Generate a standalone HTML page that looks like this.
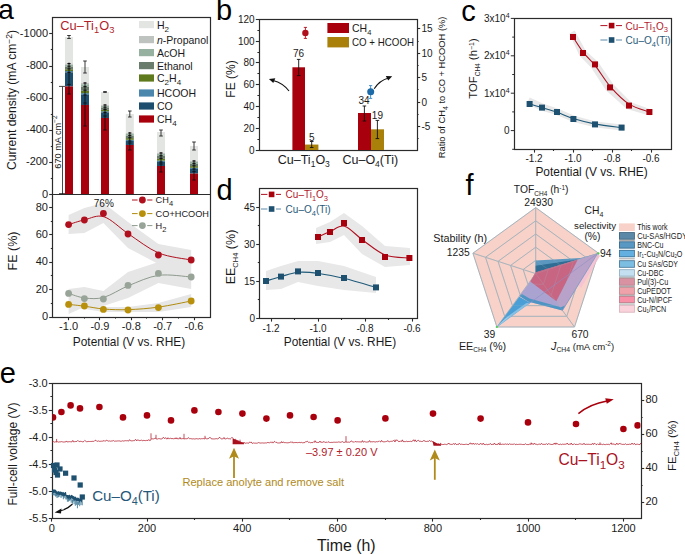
<!DOCTYPE html><html><head><meta charset="utf-8"><style>html,body{margin:0;padding:0;background:#fff;}svg{display:block;}text{font-family:"Liberation Sans",sans-serif;}</style></head><body>
<svg width="685" height="555" viewBox="0 0 685 555">
<rect width="685" height="555" fill="#fff"/>
<text x="-1.8" y="19" font-size="28" text-anchor="start" fill="#000" >a</text>
<text x="216" y="20.4" font-size="29" text-anchor="start" fill="#000" >b</text>
<text x="461.2" y="20.8" font-size="29" text-anchor="start" fill="#000" >c</text>
<text x="216.6" y="199.6" font-size="29" text-anchor="start" fill="#000" >d</text>
<text x="465.6" y="195.3" font-size="29" text-anchor="start" fill="#000" >f</text>
<text x="-0.3" y="383.4" font-size="29" text-anchor="start" fill="#000" >e</text>
<rect x="65" y="37" width="8" height="26.6" fill="#e3e5e3" />
<rect x="65" y="70.99" width="8" height="1.46" fill="#4b86ad" />
<rect x="65" y="69.23" width="8" height="1.81" fill="#5f7a1c" />
<rect x="65" y="66.42" width="8" height="2.87" fill="#6a7c6c" />
<rect x="65" y="64.48" width="8" height="1.99" fill="#97b1a0" />
<rect x="65" y="63.6" width="8" height="0.93" fill="#bfc3bf" />
<rect x="65" y="72.4" width="8" height="14" fill="#1e4e6e" />
<rect x="65" y="86.4" width="8" height="108" fill="#a8000c" />
<line x1="69" y1="35.5" x2="69" y2="38.5" stroke="#222" stroke-width="0.9" />
<line x1="67.2" y1="35.5" x2="70.8" y2="35.5" stroke="#222" stroke-width="0.9" />
<line x1="67.2" y1="38.5" x2="70.8" y2="38.5" stroke="#222" stroke-width="0.9" />
<line x1="67.4" y1="63.6" x2="70.6" y2="63.6" stroke="#111" stroke-width="1.1" />
<line x1="67.4" y1="66.24" x2="70.6" y2="66.24" stroke="#111" stroke-width="1.1" />
<line x1="67.4" y1="68.88" x2="70.6" y2="68.88" stroke="#111" stroke-width="1.1" />
<line x1="67.4" y1="72.4" x2="70.6" y2="72.4" stroke="#111" stroke-width="1.1" />
<line x1="69" y1="62.6" x2="69" y2="94" stroke="#111" stroke-width="0.9" />
<line x1="67.3" y1="94" x2="70.7" y2="94" stroke="#111" stroke-width="0.9" />
<line x1="67.3" y1="84.4" x2="70.7" y2="84.4" stroke="#111" stroke-width="0.9" />
<rect x="81" y="67" width="8" height="16" fill="#e3e5e3" />
<rect x="81" y="93.08" width="8" height="1.97" fill="#4b86ad" />
<rect x="81" y="90.68" width="8" height="2.45" fill="#5f7a1c" />
<rect x="81" y="86.84" width="8" height="3.89" fill="#6a7c6c" />
<rect x="81" y="84.2" width="8" height="2.69" fill="#97b1a0" />
<rect x="81" y="83" width="8" height="1.25" fill="#bfc3bf" />
<rect x="81" y="95" width="8" height="10" fill="#1e4e6e" />
<rect x="81" y="105" width="8" height="89.4" fill="#a8000c" />
<line x1="85" y1="61" x2="85" y2="73" stroke="#222" stroke-width="0.9" />
<line x1="83.2" y1="61" x2="86.8" y2="61" stroke="#222" stroke-width="0.9" />
<line x1="83.2" y1="73" x2="86.8" y2="73" stroke="#222" stroke-width="0.9" />
<line x1="83.4" y1="83" x2="86.6" y2="83" stroke="#111" stroke-width="1.1" />
<line x1="83.4" y1="86.6" x2="86.6" y2="86.6" stroke="#111" stroke-width="1.1" />
<line x1="83.4" y1="90.2" x2="86.6" y2="90.2" stroke="#111" stroke-width="1.1" />
<line x1="83.4" y1="95" x2="86.6" y2="95" stroke="#111" stroke-width="1.1" />
<line x1="85" y1="82" x2="85" y2="126" stroke="#111" stroke-width="0.9" />
<line x1="83.3" y1="126" x2="86.7" y2="126" stroke="#111" stroke-width="0.9" />
<line x1="83.3" y1="103" x2="86.7" y2="103" stroke="#111" stroke-width="0.9" />
<rect x="101" y="92" width="8" height="13" fill="#e3e5e3" />
<rect x="101" y="111.22" width="8" height="1.23" fill="#4b86ad" />
<rect x="101" y="109.74" width="8" height="1.53" fill="#5f7a1c" />
<rect x="101" y="107.37" width="8" height="2.42" fill="#6a7c6c" />
<rect x="101" y="105.74" width="8" height="1.68" fill="#97b1a0" />
<rect x="101" y="105" width="8" height="0.79" fill="#bfc3bf" />
<rect x="101" y="112.4" width="8" height="5.6" fill="#1e4e6e" />
<rect x="101" y="118" width="8" height="76.4" fill="#a8000c" />
<line x1="105" y1="91.6" x2="105" y2="92.4" stroke="#222" stroke-width="0.9" />
<line x1="103.2" y1="91.6" x2="106.8" y2="91.6" stroke="#222" stroke-width="0.9" />
<line x1="103.2" y1="92.4" x2="106.8" y2="92.4" stroke="#222" stroke-width="0.9" />
<line x1="103.4" y1="105" x2="106.6" y2="105" stroke="#111" stroke-width="1.1" />
<line x1="103.4" y1="107.22" x2="106.6" y2="107.22" stroke="#111" stroke-width="1.1" />
<line x1="103.4" y1="109.44" x2="106.6" y2="109.44" stroke="#111" stroke-width="1.1" />
<line x1="103.4" y1="112.4" x2="106.6" y2="112.4" stroke="#111" stroke-width="1.1" />
<line x1="105" y1="104" x2="105" y2="130" stroke="#111" stroke-width="0.9" />
<line x1="103.3" y1="130" x2="106.7" y2="130" stroke="#111" stroke-width="0.9" />
<line x1="103.3" y1="116" x2="106.7" y2="116" stroke="#111" stroke-width="0.9" />
<rect x="125.8" y="114" width="8" height="19" fill="#e3e5e3" />
<rect x="125.8" y="139.72" width="8" height="1.33" fill="#4b86ad" />
<rect x="125.8" y="138.12" width="8" height="1.65" fill="#5f7a1c" />
<rect x="125.8" y="135.56" width="8" height="2.61" fill="#6a7c6c" />
<rect x="125.8" y="133.8" width="8" height="1.81" fill="#97b1a0" />
<rect x="125.8" y="133" width="8" height="0.85" fill="#bfc3bf" />
<rect x="125.8" y="141" width="8" height="4" fill="#1e4e6e" />
<rect x="125.8" y="145" width="8" height="49.4" fill="#a8000c" />
<line x1="129.8" y1="111" x2="129.8" y2="117" stroke="#222" stroke-width="0.9" />
<line x1="128" y1="111" x2="131.6" y2="111" stroke="#222" stroke-width="0.9" />
<line x1="128" y1="117" x2="131.6" y2="117" stroke="#222" stroke-width="0.9" />
<line x1="128.2" y1="133" x2="131.4" y2="133" stroke="#111" stroke-width="1.1" />
<line x1="128.2" y1="135.4" x2="131.4" y2="135.4" stroke="#111" stroke-width="1.1" />
<line x1="128.2" y1="137.8" x2="131.4" y2="137.8" stroke="#111" stroke-width="1.1" />
<line x1="128.2" y1="141" x2="131.4" y2="141" stroke="#111" stroke-width="1.1" />
<line x1="129.8" y1="132" x2="129.8" y2="150" stroke="#111" stroke-width="0.9" />
<line x1="128.1" y1="150" x2="131.5" y2="150" stroke="#111" stroke-width="0.9" />
<line x1="128.1" y1="143" x2="131.5" y2="143" stroke="#111" stroke-width="0.9" />
<rect x="157" y="132" width="8" height="21" fill="#e3e5e3" />
<rect x="157" y="160.56" width="8" height="1.49" fill="#4b86ad" />
<rect x="157" y="158.76" width="8" height="1.85" fill="#5f7a1c" />
<rect x="157" y="155.88" width="8" height="2.93" fill="#6a7c6c" />
<rect x="157" y="153.9" width="8" height="2.03" fill="#97b1a0" />
<rect x="157" y="153" width="8" height="0.95" fill="#bfc3bf" />
<rect x="157" y="162" width="8" height="4" fill="#1e4e6e" />
<rect x="157" y="166" width="8" height="28.4" fill="#a8000c" />
<line x1="161" y1="130" x2="161" y2="136" stroke="#222" stroke-width="0.9" />
<line x1="159.2" y1="130" x2="162.8" y2="130" stroke="#222" stroke-width="0.9" />
<line x1="159.2" y1="136" x2="162.8" y2="136" stroke="#222" stroke-width="0.9" />
<line x1="159.4" y1="153" x2="162.6" y2="153" stroke="#111" stroke-width="1.1" />
<line x1="159.4" y1="155.7" x2="162.6" y2="155.7" stroke="#111" stroke-width="1.1" />
<line x1="159.4" y1="158.4" x2="162.6" y2="158.4" stroke="#111" stroke-width="1.1" />
<line x1="159.4" y1="162" x2="162.6" y2="162" stroke="#111" stroke-width="1.1" />
<line x1="161" y1="152" x2="161" y2="172" stroke="#111" stroke-width="0.9" />
<line x1="159.3" y1="172" x2="162.7" y2="172" stroke="#111" stroke-width="0.9" />
<line x1="159.3" y1="164" x2="162.7" y2="164" stroke="#111" stroke-width="0.9" />
<rect x="190" y="146" width="8" height="15" fill="#e3e5e3" />
<rect x="190" y="167.72" width="8" height="1.33" fill="#4b86ad" />
<rect x="190" y="166.12" width="8" height="1.65" fill="#5f7a1c" />
<rect x="190" y="163.56" width="8" height="2.61" fill="#6a7c6c" />
<rect x="190" y="161.8" width="8" height="1.81" fill="#97b1a0" />
<rect x="190" y="161" width="8" height="0.85" fill="#bfc3bf" />
<rect x="190" y="169" width="8" height="4.6" fill="#1e4e6e" />
<rect x="190" y="173.6" width="8" height="20.8" fill="#a8000c" />
<line x1="194" y1="142" x2="194" y2="150" stroke="#222" stroke-width="0.9" />
<line x1="192.2" y1="142" x2="195.8" y2="142" stroke="#222" stroke-width="0.9" />
<line x1="192.2" y1="150" x2="195.8" y2="150" stroke="#222" stroke-width="0.9" />
<line x1="192.4" y1="161" x2="195.6" y2="161" stroke="#111" stroke-width="1.1" />
<line x1="192.4" y1="163.4" x2="195.6" y2="163.4" stroke="#111" stroke-width="1.1" />
<line x1="192.4" y1="165.8" x2="195.6" y2="165.8" stroke="#111" stroke-width="1.1" />
<line x1="192.4" y1="169" x2="195.6" y2="169" stroke="#111" stroke-width="1.1" />
<line x1="194" y1="160" x2="194" y2="180" stroke="#111" stroke-width="0.9" />
<line x1="192.3" y1="180" x2="195.7" y2="180" stroke="#111" stroke-width="0.9" />
<line x1="192.3" y1="171.6" x2="195.7" y2="171.6" stroke="#111" stroke-width="0.9" />
<line x1="62.5" y1="86.4" x2="62.5" y2="194.4" stroke="#333" stroke-width="0.9" />
<line x1="59" y1="86.4" x2="65" y2="86.4" stroke="#333" stroke-width="0.9" />
<line x1="59" y1="193.9" x2="65" y2="193.9" stroke="#111" stroke-width="1.2" />
<text transform="translate(60.6,142) rotate(-90)" font-size="9.2" text-anchor="middle" fill="#1a1a1a">670 mA cm<tspan dy="-3.5" font-size="6.5">−2</tspan></text>
<rect x="52.5" y="17.5" width="158" height="300" fill="none" stroke="#2b2b2b" stroke-width="1.2"/>
<line x1="52.4" y1="194.5" x2="210.6" y2="194.5" stroke="#2b2b2b" stroke-width="1.2" />
<line x1="49.2" y1="33.5" x2="52.4" y2="33.5" stroke="#2b2b2b" stroke-width="1.1" />
<text x="48" y="37" font-size="11" text-anchor="end" fill="#1a1a1a" >-1000</text>
<line x1="49.2" y1="66.5" x2="52.4" y2="66.5" stroke="#2b2b2b" stroke-width="1.1" />
<text x="48" y="69.1" font-size="11" text-anchor="end" fill="#1a1a1a" >-800</text>
<line x1="49.2" y1="98.5" x2="52.4" y2="98.5" stroke="#2b2b2b" stroke-width="1.1" />
<text x="48" y="101.2" font-size="11" text-anchor="end" fill="#1a1a1a" >-600</text>
<line x1="49.2" y1="130.5" x2="52.4" y2="130.5" stroke="#2b2b2b" stroke-width="1.1" />
<text x="48" y="133.3" font-size="11" text-anchor="end" fill="#1a1a1a" >-400</text>
<line x1="49.2" y1="162.5" x2="52.4" y2="162.5" stroke="#2b2b2b" stroke-width="1.1" />
<text x="48" y="165.4" font-size="11" text-anchor="end" fill="#1a1a1a" >-200</text>
<line x1="49.2" y1="194.5" x2="52.4" y2="194.5" stroke="#2b2b2b" stroke-width="1.1" />
<text x="48" y="197.5" font-size="11" text-anchor="end" fill="#1a1a1a" >0</text>
<line x1="50.8" y1="49.5" x2="52.4" y2="49.5" stroke="#2b2b2b" stroke-width="1.1" />
<line x1="50.8" y1="82.5" x2="52.4" y2="82.5" stroke="#2b2b2b" stroke-width="1.1" />
<line x1="50.8" y1="114.5" x2="52.4" y2="114.5" stroke="#2b2b2b" stroke-width="1.1" />
<line x1="50.8" y1="146.5" x2="52.4" y2="146.5" stroke="#2b2b2b" stroke-width="1.1" />
<line x1="50.8" y1="178.5" x2="52.4" y2="178.5" stroke="#2b2b2b" stroke-width="1.1" />
<text x="60.3" y="30.3" font-size="12.8" fill="#b01e2a">Cu–Ti<tspan dy="3" font-size="9.4">1</tspan><tspan dy="-3">O</tspan><tspan dy="3" font-size="9.4">3</tspan></text>
<rect x="139" y="21" width="15" height="7.2" fill="#e3e5e3" />
<text x="157" y="28.6" font-size="10.5" text-anchor="start" fill="#1a1a1a" >H<tspan dy="3" font-size="8">2</tspan></text>
<rect x="139" y="36" width="15" height="7.2" fill="#bfc3bf" />
<text x="157" y="43.6" font-size="10.5" text-anchor="start" fill="#1a1a1a" ><tspan font-style="italic">n</tspan>-Propanol</text>
<rect x="139" y="49" width="15" height="7.2" fill="#97b1a0" />
<text x="157" y="56.6" font-size="10.5" text-anchor="start" fill="#1a1a1a" >AcOH</text>
<rect x="139" y="62" width="15" height="7.2" fill="#6a7c6c" />
<text x="157" y="69.6" font-size="10.5" text-anchor="start" fill="#1a1a1a" >Ethanol</text>
<rect x="139" y="74.4" width="15" height="7.2" fill="#5f7a1c" />
<text x="157" y="82" font-size="10.5" text-anchor="start" fill="#1a1a1a" >C<tspan dy="3" font-size="8">2</tspan><tspan dy="-3">H</tspan><tspan dy="3" font-size="8">4</tspan></text>
<rect x="139" y="89.4" width="15" height="7.2" fill="#4b86ad" />
<text x="157" y="97" font-size="10.5" text-anchor="start" fill="#1a1a1a" >HCOOH</text>
<rect x="139" y="102.4" width="15" height="7.2" fill="#1e4e6e" />
<text x="157" y="110" font-size="10.5" text-anchor="start" fill="#1a1a1a" >CO</text>
<rect x="139" y="115.4" width="15" height="7.2" fill="#a8000c" />
<text x="157" y="123" font-size="10.5" text-anchor="start" fill="#1a1a1a" >CH<tspan dy="3" font-size="8">4</tspan></text>
<text transform="translate(16.2,100) rotate(-90)" font-size="12.1" text-anchor="middle" fill="#1a1a1a">Current density (mA cm<tspan dy="-4" font-size="8.5">−2</tspan><tspan dy="4">)</tspan></text>
<line x1="49.2" y1="317.5" x2="52.4" y2="317.5" stroke="#2b2b2b" stroke-width="1.1" />
<text x="48" y="320.1" font-size="11" text-anchor="end" fill="#1a1a1a" >0</text>
<line x1="49.2" y1="289.5" x2="52.4" y2="289.5" stroke="#2b2b2b" stroke-width="1.1" />
<text x="48" y="292.75" font-size="11" text-anchor="end" fill="#1a1a1a" >20</text>
<line x1="49.2" y1="262.5" x2="52.4" y2="262.5" stroke="#2b2b2b" stroke-width="1.1" />
<text x="48" y="265.4" font-size="11" text-anchor="end" fill="#1a1a1a" >40</text>
<line x1="49.2" y1="234.5" x2="52.4" y2="234.5" stroke="#2b2b2b" stroke-width="1.1" />
<text x="48" y="238.05" font-size="11" text-anchor="end" fill="#1a1a1a" >60</text>
<line x1="49.2" y1="207.5" x2="52.4" y2="207.5" stroke="#2b2b2b" stroke-width="1.1" />
<text x="48" y="210.7" font-size="11" text-anchor="end" fill="#1a1a1a" >80</text>
<line x1="50.8" y1="303.5" x2="52.4" y2="303.5" stroke="#2b2b2b" stroke-width="1.1" />
<line x1="50.8" y1="275.5" x2="52.4" y2="275.5" stroke="#2b2b2b" stroke-width="1.1" />
<line x1="50.8" y1="248.5" x2="52.4" y2="248.5" stroke="#2b2b2b" stroke-width="1.1" />
<line x1="50.8" y1="221.5" x2="52.4" y2="221.5" stroke="#2b2b2b" stroke-width="1.1" />
<line x1="68.5" y1="317" x2="68.5" y2="320.2" stroke="#2b2b2b" stroke-width="1.1" />
<text x="68.6" y="330" font-size="11" text-anchor="middle" fill="#1a1a1a" >-1.0</text>
<line x1="99.5" y1="317" x2="99.5" y2="320.2" stroke="#2b2b2b" stroke-width="1.1" />
<text x="99.95" y="330" font-size="11" text-anchor="middle" fill="#1a1a1a" >-0.9</text>
<line x1="131.5" y1="317" x2="131.5" y2="320.2" stroke="#2b2b2b" stroke-width="1.1" />
<text x="131.3" y="330" font-size="11" text-anchor="middle" fill="#1a1a1a" >-0.8</text>
<line x1="162.5" y1="317" x2="162.5" y2="320.2" stroke="#2b2b2b" stroke-width="1.1" />
<text x="162.65" y="330" font-size="11" text-anchor="middle" fill="#1a1a1a" >-0.7</text>
<line x1="194.5" y1="317" x2="194.5" y2="320.2" stroke="#2b2b2b" stroke-width="1.1" />
<text x="194" y="330" font-size="11" text-anchor="middle" fill="#1a1a1a" >-0.6</text>
<line x1="84.5" y1="317" x2="84.5" y2="318.6" stroke="#2b2b2b" stroke-width="1.1" />
<line x1="115.5" y1="317" x2="115.5" y2="318.6" stroke="#2b2b2b" stroke-width="1.1" />
<line x1="146.5" y1="317" x2="146.5" y2="318.6" stroke="#2b2b2b" stroke-width="1.1" />
<line x1="178.5" y1="317" x2="178.5" y2="318.6" stroke="#2b2b2b" stroke-width="1.1" />
<text x="129" y="346" font-size="11.9" text-anchor="middle" fill="#1a1a1a" >Potential (V vs. RHE)</text>
<text transform="translate(17,251) rotate(-90)" font-size="12.5" text-anchor="middle" fill="#1a1a1a">FE (%)</text>
<polygon points="68.6,215 84.4,208 103.4,203 128,222 158.4,244 191.2,250 191.2,266 158.4,264 128,248 103.4,223 84.4,233 68.6,234" fill="#e6e6e6" />
<polygon points="68.6,289 84.4,287 103.4,291 128,272 158.4,262 191.2,264 191.2,289 158.4,283 128,298 103.4,306 84.4,307 68.6,314" fill="#e6e6e6" />
<polygon points="68.6,300 84.4,303 103.4,307 128,307 158.4,303 191.2,294 191.2,307 158.4,312 128,312 103.4,312 84.4,309 68.6,307" fill="#e6e6e6" />
<path d="M68.6,293.4 C71.3,294.17 78.88,297.36 84.8,298 C90.72,298.64 96.78,299.32 104.1,297.25 C111.42,295.18 119.62,289.25 128.72,285.6 C137.82,281.95 148.29,276.78 158.7,275.35 C169.11,273.92 185.78,276.73 191.2,277" fill="none" stroke="#8e9a8e" stroke-width="1"/>
<path d="M68.6,304.4 C71.3,304.7 78.88,305.45 84.8,306.23 C90.72,307 96.78,308.48 104.1,309.05 C111.42,309.62 119.62,309.95 128.72,309.62 C137.82,309.3 148.29,308.51 158.7,307.08 C169.11,305.64 185.78,302.01 191.2,301" fill="none" stroke="#b08a0c" stroke-width="1"/>
<path d="M68.6,224.6 C71.3,223.79 78.88,221.05 84.8,219.75 C90.72,218.45 96.78,214.42 104.1,216.8 C111.42,219.18 119.62,228.02 128.72,234.05 C137.82,240.08 148.29,248.68 158.7,253 C169.11,257.32 185.78,258.83 191.2,260" fill="none" stroke="#b01020" stroke-width="1"/>
<circle cx="68.6" cy="293.4" r="3.4" fill="#98a498" />
<circle cx="84.4" cy="298.6" r="3.4" fill="#98a498" />
<circle cx="103.4" cy="299" r="3.4" fill="#98a498" />
<circle cx="128" cy="285.4" r="3.4" fill="#98a498" />
<circle cx="158.4" cy="273.4" r="3.4" fill="#98a498" />
<circle cx="191.2" cy="277" r="3.4" fill="#98a498" />
<circle cx="68.6" cy="304.4" r="3.4" fill="#b8900c" />
<circle cx="84.4" cy="306" r="3.4" fill="#b8900c" />
<circle cx="103.4" cy="309.4" r="3.4" fill="#b8900c" />
<circle cx="128" cy="310" r="3.4" fill="#b8900c" />
<circle cx="158.4" cy="307.6" r="3.4" fill="#b8900c" />
<circle cx="191.2" cy="301" r="3.4" fill="#b8900c" />
<circle cx="68.6" cy="224.6" r="3.4" fill="#b0101e" />
<circle cx="84.4" cy="220" r="3.4" fill="#b0101e" />
<circle cx="103.4" cy="213.4" r="3.4" fill="#b0101e" />
<circle cx="128" cy="234" r="3.4" fill="#b0101e" />
<circle cx="158.4" cy="255" r="3.4" fill="#b0101e" />
<circle cx="191.2" cy="260" r="3.4" fill="#b0101e" />
<text x="103.8" y="207" font-size="10" text-anchor="middle" fill="#1a1a1a" >76%</text>
<line x1="132" y1="200" x2="137.6" y2="200" stroke="#b01020" stroke-width="1" />
<line x1="147.2" y1="200" x2="152.4" y2="200" stroke="#b01020" stroke-width="1" />
<circle cx="142.4" cy="200" r="3.4" fill="#b0101e" />
<text x="155.6" y="203.4" font-size="9.2" text-anchor="start" fill="#1a1a1a" >CH<tspan dy="3" font-size="7.5">4</tspan></text>
<line x1="132" y1="213.6" x2="137.6" y2="213.6" stroke="#b08a0c" stroke-width="1" />
<line x1="147.2" y1="213.6" x2="152.4" y2="213.6" stroke="#b08a0c" stroke-width="1" />
<circle cx="142.4" cy="213.6" r="3.4" fill="#b8900c" />
<text x="155.6" y="217" font-size="9.2" text-anchor="start" fill="#1a1a1a" >CO+HCOOH</text>
<line x1="132" y1="225.6" x2="137.6" y2="225.6" stroke="#8e9a8e" stroke-width="1" />
<line x1="147.2" y1="225.6" x2="152.4" y2="225.6" stroke="#8e9a8e" stroke-width="1" />
<circle cx="142.4" cy="225.6" r="3.4" fill="#98a498" />
<text x="155.6" y="229" font-size="9.2" text-anchor="start" fill="#1a1a1a" >H<tspan dy="3" font-size="7.5">2</tspan></text>
<rect x="259.5" y="19.5" width="158" height="131" fill="none" stroke="#2b2b2b" stroke-width="1.2"/>
<line x1="255.8" y1="150.5" x2="259" y2="150.5" stroke="#2b2b2b" stroke-width="1.1" />
<text x="254.6" y="153.5" font-size="10" text-anchor="end" fill="#1a1a1a" >0</text>
<line x1="255.8" y1="128.5" x2="259" y2="128.5" stroke="#2b2b2b" stroke-width="1.1" />
<text x="254.6" y="131.73" font-size="10" text-anchor="end" fill="#1a1a1a" >20</text>
<line x1="255.8" y1="106.5" x2="259" y2="106.5" stroke="#2b2b2b" stroke-width="1.1" />
<text x="254.6" y="109.97" font-size="10" text-anchor="end" fill="#1a1a1a" >40</text>
<line x1="255.8" y1="84.5" x2="259" y2="84.5" stroke="#2b2b2b" stroke-width="1.1" />
<text x="254.6" y="88.2" font-size="10" text-anchor="end" fill="#1a1a1a" >60</text>
<line x1="255.8" y1="62.5" x2="259" y2="62.5" stroke="#2b2b2b" stroke-width="1.1" />
<text x="254.6" y="66.44" font-size="10" text-anchor="end" fill="#1a1a1a" >80</text>
<line x1="255.8" y1="41.5" x2="259" y2="41.5" stroke="#2b2b2b" stroke-width="1.1" />
<text x="254.6" y="44.67" font-size="10" text-anchor="end" fill="#1a1a1a" >100</text>
<line x1="255.8" y1="19.5" x2="259" y2="19.5" stroke="#2b2b2b" stroke-width="1.1" />
<text x="254.6" y="22.9" font-size="10" text-anchor="end" fill="#1a1a1a" >120</text>
<line x1="257.4" y1="139.5" x2="259" y2="139.5" stroke="#2b2b2b" stroke-width="1.1" />
<line x1="257.4" y1="117.5" x2="259" y2="117.5" stroke="#2b2b2b" stroke-width="1.1" />
<line x1="257.4" y1="95.5" x2="259" y2="95.5" stroke="#2b2b2b" stroke-width="1.1" />
<line x1="257.4" y1="73.5" x2="259" y2="73.5" stroke="#2b2b2b" stroke-width="1.1" />
<line x1="257.4" y1="52.5" x2="259" y2="52.5" stroke="#2b2b2b" stroke-width="1.1" />
<line x1="257.4" y1="30.5" x2="259" y2="30.5" stroke="#2b2b2b" stroke-width="1.1" />
<line x1="417" y1="28.5" x2="420.2" y2="28.5" stroke="#2b2b2b" stroke-width="1.1" />
<text x="421.4" y="32.3" font-size="10" text-anchor="start" fill="#1a1a1a" >15</text>
<line x1="417" y1="53.5" x2="420.2" y2="53.5" stroke="#2b2b2b" stroke-width="1.1" />
<text x="421.4" y="56.7" font-size="10" text-anchor="start" fill="#1a1a1a" >10</text>
<line x1="417" y1="77.5" x2="420.2" y2="77.5" stroke="#2b2b2b" stroke-width="1.1" />
<text x="421.4" y="81.1" font-size="10" text-anchor="start" fill="#1a1a1a" >5</text>
<line x1="417" y1="102.5" x2="420.2" y2="102.5" stroke="#2b2b2b" stroke-width="1.1" />
<text x="421.4" y="105.5" font-size="10" text-anchor="start" fill="#1a1a1a" >0</text>
<line x1="417" y1="126.5" x2="420.2" y2="126.5" stroke="#2b2b2b" stroke-width="1.1" />
<text x="421.4" y="129.9" font-size="10" text-anchor="start" fill="#1a1a1a" >-5</text>
<line x1="417" y1="41.5" x2="418.6" y2="41.5" stroke="#2b2b2b" stroke-width="1.1" />
<line x1="417" y1="65.5" x2="418.6" y2="65.5" stroke="#2b2b2b" stroke-width="1.1" />
<line x1="417" y1="89.5" x2="418.6" y2="89.5" stroke="#2b2b2b" stroke-width="1.1" />
<line x1="417" y1="114.5" x2="418.6" y2="114.5" stroke="#2b2b2b" stroke-width="1.1" />
<line x1="417" y1="138.5" x2="418.6" y2="138.5" stroke="#2b2b2b" stroke-width="1.1" />
<rect x="292.4" y="67.29" width="12.6" height="82.71" fill="#a8000c" />
<rect x="305" y="144.56" width="13.4" height="5.44" fill="#a8800a" />
<rect x="358" y="113" width="13" height="37" fill="#a8000c" />
<rect x="371" y="129.32" width="13" height="20.68" fill="#a8800a" />
<line x1="298.7" y1="59.4" x2="298.7" y2="75.6" stroke="#111" stroke-width="0.9" />
<line x1="296.9" y1="59.4" x2="300.5" y2="59.4" stroke="#111" stroke-width="0.9" />
<line x1="296.9" y1="75.6" x2="300.5" y2="75.6" stroke="#111" stroke-width="0.9" />
<line x1="311.7" y1="141.5" x2="311.7" y2="147.5" stroke="#111" stroke-width="0.9" />
<line x1="309.9" y1="141.5" x2="313.5" y2="141.5" stroke="#111" stroke-width="0.9" />
<line x1="309.9" y1="147.5" x2="313.5" y2="147.5" stroke="#111" stroke-width="0.9" />
<line x1="364.4" y1="106" x2="364.4" y2="121" stroke="#111" stroke-width="0.9" />
<line x1="362.6" y1="106" x2="366.2" y2="106" stroke="#111" stroke-width="0.9" />
<line x1="362.6" y1="121" x2="366.2" y2="121" stroke="#111" stroke-width="0.9" />
<line x1="377.4" y1="120.4" x2="377.4" y2="138.6" stroke="#111" stroke-width="0.9" />
<line x1="375.6" y1="120.4" x2="379.2" y2="120.4" stroke="#111" stroke-width="0.9" />
<line x1="375.6" y1="138.6" x2="379.2" y2="138.6" stroke="#111" stroke-width="0.9" />
<text x="298.5" y="57" font-size="10" text-anchor="middle" fill="#1a1a1a" >76</text>
<text x="311.7" y="140.8" font-size="10" text-anchor="middle" fill="#1a1a1a" >5</text>
<text x="364" y="104" font-size="10" text-anchor="middle" fill="#1a1a1a" >34</text>
<text x="377.4" y="119" font-size="10" text-anchor="middle" fill="#1a1a1a" >19</text>
<line x1="305.4" y1="27.4" x2="305.4" y2="38.4" stroke="#b01020" stroke-width="0.9" />
<line x1="303.8" y1="27.4" x2="307" y2="27.4" stroke="#b01020" stroke-width="0.9" />
<line x1="303.8" y1="38.4" x2="307" y2="38.4" stroke="#b01020" stroke-width="0.9" />
<circle cx="305.4" cy="33" r="3.2" fill="#b0101e" />
<line x1="370.6" y1="85.6" x2="370.6" y2="98.4" stroke="#3a88c0" stroke-width="0.9" />
<line x1="369" y1="85.6" x2="372.2" y2="85.6" stroke="#3a88c0" stroke-width="0.9" />
<line x1="369" y1="98.4" x2="372.2" y2="98.4" stroke="#3a88c0" stroke-width="0.9" />
<circle cx="370.7" cy="91.8" r="3.5" fill="#1c6aa8" />
<path d="M289,91 Q283,83 273,80.5" fill="none" stroke="#111" stroke-width="1.15"/>
<path d="M268.9,78.9 L275.3,78.3 L273.3,83 Z" fill="#111"/>
<path d="M374.2,88.7 Q379.5,80.5 388.5,78" fill="none" stroke="#111" stroke-width="1.15"/>
<path d="M392.2,76.3 L385.8,76 L388.2,80.6 Z" fill="#111"/>
<rect x="327.4" y="23" width="21.6" height="10" fill="#a8000c" />
<rect x="327.4" y="37" width="21.6" height="10.4" fill="#a8800a" />
<text x="352" y="32" font-size="10.5" text-anchor="start" fill="#1a1a1a" >CH<tspan dy="3" font-size="7.5">4</tspan></text>
<text x="352" y="46" font-size="10.4" fill="#1a1a1a" textLength="62" lengthAdjust="spacingAndGlyphs">CO + HCOOH</text>
<text x="303.8" y="164" font-size="12.5" text-anchor="middle" fill="#1a1a1a">Cu–Ti<tspan dy="3" font-size="8.5">1</tspan><tspan dy="-3">O</tspan><tspan dy="3" font-size="8.5">3</tspan></text>
<text x="370.3" y="164" font-size="12.5" text-anchor="middle" fill="#1a1a1a">Cu–O<tspan dy="3" font-size="8.5">4</tspan><tspan dy="-3">(Ti)</tspan></text>
<text transform="translate(234.5,79) rotate(-90)" font-size="12" text-anchor="middle" fill="#1a1a1a">FE (%)</text>
<text transform="translate(445.3,87.4) rotate(-90)" font-size="9.35" text-anchor="middle" fill="#1a1a1a">Ratio of CH<tspan dy="2.5" font-size="7">4</tspan><tspan dy="-2.5"> to CO + HCOOH (%)</tspan></text>
<rect x="514.5" y="18.5" width="157" height="131" fill="none" stroke="#2b2b2b" stroke-width="1.2"/>
<line x1="510.8" y1="130.6" x2="514" y2="130.6" stroke="#2b2b2b" stroke-width="1.0" />
<text x="509.6" y="134.1" font-size="10" text-anchor="end" fill="#1a1a1a" >0</text>
<line x1="510.8" y1="93.2" x2="514" y2="93.2" stroke="#2b2b2b" stroke-width="1.0" />
<text x="509.6" y="96.7" font-size="10" text-anchor="end" fill="#1a1a1a">1x10<tspan dy="-4" font-size="7">4</tspan></text>
<line x1="510.8" y1="55.8" x2="514" y2="55.8" stroke="#2b2b2b" stroke-width="1.0" />
<text x="509.6" y="59.3" font-size="10" text-anchor="end" fill="#1a1a1a">2x10<tspan dy="-4" font-size="7">4</tspan></text>
<line x1="510.8" y1="18.4" x2="514" y2="18.4" stroke="#2b2b2b" stroke-width="1.0" />
<text x="509.6" y="21.9" font-size="10" text-anchor="end" fill="#1a1a1a">3x10<tspan dy="-4" font-size="7">4</tspan></text>
<line x1="512.2" y1="149.3" x2="514" y2="149.3" stroke="#2b2b2b" stroke-width="1.0" />
<line x1="512.2" y1="111.9" x2="514" y2="111.9" stroke="#2b2b2b" stroke-width="1.0" />
<line x1="512.2" y1="74.5" x2="514" y2="74.5" stroke="#2b2b2b" stroke-width="1.0" />
<line x1="512.2" y1="37.1" x2="514" y2="37.1" stroke="#2b2b2b" stroke-width="1.0" />
<line x1="534.5" y1="149.4" x2="534.5" y2="152.6" stroke="#2b2b2b" stroke-width="1.1" />
<text x="534" y="161.5" font-size="10" text-anchor="middle" fill="#1a1a1a" >-1.2</text>
<line x1="573.5" y1="149.4" x2="573.5" y2="152.6" stroke="#2b2b2b" stroke-width="1.1" />
<text x="573" y="161.5" font-size="10" text-anchor="middle" fill="#1a1a1a" >-1.0</text>
<line x1="612.5" y1="149.4" x2="612.5" y2="152.6" stroke="#2b2b2b" stroke-width="1.1" />
<text x="612" y="161.5" font-size="10" text-anchor="middle" fill="#1a1a1a" >-0.8</text>
<line x1="651.5" y1="149.4" x2="651.5" y2="152.6" stroke="#2b2b2b" stroke-width="1.1" />
<text x="651" y="161.5" font-size="10" text-anchor="middle" fill="#1a1a1a" >-0.6</text>
<line x1="553.5" y1="149.4" x2="553.5" y2="151" stroke="#2b2b2b" stroke-width="1.1" />
<line x1="592.5" y1="149.4" x2="592.5" y2="151" stroke="#2b2b2b" stroke-width="1.1" />
<line x1="631.5" y1="149.4" x2="631.5" y2="151" stroke="#2b2b2b" stroke-width="1.1" />
<text x="591.6" y="175.6" font-size="11.9" text-anchor="middle" fill="#1a1a1a" >Potential (V vs. RHE)</text>
<text transform="translate(477.3,68.5) rotate(-90)" font-size="11.3" text-anchor="middle" fill="#1a1a1a">TOF<tspan dy="3" font-size="6.5">CH4</tspan><tspan dy="-3"> (h</tspan><tspan dy="-3.5" font-size="7">−1</tspan><tspan dy="3.5">)</tspan></text>
<polygon points="574.66,30.61 585.85,50.97 598.15,61.93 613.47,84.54 631.12,102.21 650.26,109.13 652.57,109.55 651.43,115.45 648.39,115.35 626.88,108.99 606.14,90.58 591.07,67.49 579.33,55.6 569.34,33.39" fill="#e8e8e8" />
<polygon points="529.71,97.38 543.42,103.86 558.19,108.71 574.49,115.67 595.53,121.45 621.95,124.62 624.25,124.81 623.75,130.79 621.25,130.58 594.47,127.35 572.47,121.85 555.98,114.82 540.94,110.4 526.72,103.71" fill="#e8e8e8" />
<path d="M573,37 C574.71,39.57 579.52,47.62 583.25,52.42 C586.98,57.23 590.83,60.12 595.38,65.85 C599.92,71.58 604.87,80.42 610.5,86.8 C616.13,93.18 622.69,99.92 629.17,104.12 C635.66,108.32 646.03,110.69 649.4,112" fill="none" stroke="#b01020" stroke-width="1.1"/>
<path d="M529.6,104 C531.72,104.62 537.73,106.31 542.33,107.7 C546.92,109.09 551.89,110.47 557.17,112.33 C562.46,114.18 567.64,116.83 574.05,118.8 C580.46,120.77 587.7,122.66 595.62,124.13 C603.55,125.59 617.27,127.02 621.6,127.6" fill="none" stroke="#1f5a7a" stroke-width="1.1"/>
<rect x="570" y="34" width="6" height="6" fill="#a8000c" />
<rect x="580" y="50" width="6" height="6" fill="#a8000c" />
<rect x="592" y="61.4" width="6" height="6" fill="#a8000c" />
<rect x="607" y="84.4" width="6" height="6" fill="#a8000c" />
<rect x="626" y="102.6" width="6" height="6" fill="#a8000c" />
<rect x="646.4" y="109" width="6" height="6" fill="#a8000c" />
<rect x="526.6" y="101" width="6" height="6" fill="#1e5070" />
<rect x="539" y="104.6" width="6" height="6" fill="#1e5070" />
<rect x="554" y="109" width="6" height="6" fill="#1e5070" />
<rect x="570.4" y="116" width="6" height="6" fill="#1e5070" />
<rect x="592" y="121.4" width="6" height="6" fill="#1e5070" />
<rect x="618.6" y="124.6" width="6" height="6" fill="#1e5070" />
<line x1="600.4" y1="25.6" x2="607.4" y2="25.6" stroke="#b01020" stroke-width="1" />
<line x1="616" y1="25.6" x2="622" y2="25.6" stroke="#b01020" stroke-width="1" />
<rect x="608.8" y="22.8" width="5.6" height="5.6" fill="#a8000c" />
<text x="625.6" y="29.5" font-size="10" fill="#b3202a">Cu–Ti<tspan dy="2.5" font-size="7.5">1</tspan><tspan dy="-2.5">O</tspan><tspan dy="2.5" font-size="7.5">3</tspan></text>
<line x1="600.4" y1="40" x2="607.4" y2="40" stroke="#5a8aa8" stroke-width="1" />
<line x1="616" y1="40" x2="622" y2="40" stroke="#5a8aa8" stroke-width="1" />
<rect x="608.8" y="37.2" width="5.6" height="5.6" fill="#1e5070" />
<text x="625.6" y="44" font-size="10" fill="#2a5a7a">Cu–O<tspan dy="2.5" font-size="7.5">4</tspan><tspan dy="-2.5">(Ti)</tspan></text>
<rect x="259.5" y="188.5" width="158" height="130" fill="none" stroke="#2b2b2b" stroke-width="1.2"/>
<line x1="256.2" y1="318.5" x2="259.4" y2="318.5" stroke="#2b2b2b" stroke-width="1.1" />
<text x="255" y="321.9" font-size="10" text-anchor="end" fill="#1a1a1a" >0</text>
<line x1="256.2" y1="281.5" x2="259.4" y2="281.5" stroke="#2b2b2b" stroke-width="1.1" />
<text x="255" y="284.9" font-size="10" text-anchor="end" fill="#1a1a1a" >15</text>
<line x1="256.2" y1="244.5" x2="259.4" y2="244.5" stroke="#2b2b2b" stroke-width="1.1" />
<text x="255" y="247.9" font-size="10" text-anchor="end" fill="#1a1a1a" >30</text>
<line x1="256.2" y1="207.5" x2="259.4" y2="207.5" stroke="#2b2b2b" stroke-width="1.1" />
<text x="255" y="210.9" font-size="10" text-anchor="end" fill="#1a1a1a" >45</text>
<line x1="257.8" y1="299.5" x2="259.4" y2="299.5" stroke="#2b2b2b" stroke-width="1.1" />
<line x1="257.8" y1="262.5" x2="259.4" y2="262.5" stroke="#2b2b2b" stroke-width="1.1" />
<line x1="257.8" y1="225.5" x2="259.4" y2="225.5" stroke="#2b2b2b" stroke-width="1.1" />
<line x1="271.5" y1="318.4" x2="271.5" y2="321.6" stroke="#2b2b2b" stroke-width="1.1" />
<text x="271" y="331.5" font-size="10" text-anchor="middle" fill="#1a1a1a" >-1.2</text>
<line x1="318.5" y1="318.4" x2="318.5" y2="321.6" stroke="#2b2b2b" stroke-width="1.1" />
<text x="318" y="331.5" font-size="10" text-anchor="middle" fill="#1a1a1a" >-1.0</text>
<line x1="365.5" y1="318.4" x2="365.5" y2="321.6" stroke="#2b2b2b" stroke-width="1.1" />
<text x="365" y="331.5" font-size="10" text-anchor="middle" fill="#1a1a1a" >-0.8</text>
<line x1="412.5" y1="318.4" x2="412.5" y2="321.6" stroke="#2b2b2b" stroke-width="1.1" />
<text x="412" y="331.5" font-size="10" text-anchor="middle" fill="#1a1a1a" >-0.6</text>
<line x1="294.5" y1="318.4" x2="294.5" y2="320" stroke="#2b2b2b" stroke-width="1.1" />
<line x1="341.5" y1="318.4" x2="341.5" y2="320" stroke="#2b2b2b" stroke-width="1.1" />
<line x1="388.5" y1="318.4" x2="388.5" y2="320" stroke="#2b2b2b" stroke-width="1.1" />
<text x="340" y="346" font-size="11.9" text-anchor="middle" fill="#1a1a1a" >Potential (V vs. RHE)</text>
<text transform="translate(234.5,257) rotate(-90)" font-size="12.5" text-anchor="middle" fill="#1a1a1a">EE<tspan dy="3.5" font-size="7.5">CH4</tspan><tspan dy="-3.5"> (%)</tspan></text>
<polygon points="316,228 330,222 344,213 362,226 385,246 410,248 410,265 385,267 362,254 344,235 330,242 316,244" fill="#e8e8e8" />
<polygon points="266,271 281,266 298,261 318,261 344,266 376,277 376,293 344,290 318,286 298,282 281,289 266,290" fill="#e8e8e8" />
<path d="M318,237 C320.04,236.08 325.83,233.29 330.25,231.5 C334.67,229.71 339.1,224.83 344.5,226.25 C349.9,227.67 355.85,235.21 362.62,240 C369.4,244.79 377.38,252 385.18,255 C392.97,258 405.36,257.5 409.4,258" fill="none" stroke="#b01020" stroke-width="1.1"/>
<path d="M266,281 C268.54,280.25 275.85,277.96 281.25,276.5 C286.65,275.04 292.12,272.76 298.38,272.25 C304.62,271.74 311.02,272.38 318.75,273.43 C326.48,274.48 335.21,276.22 344.75,278.55 C354.29,280.88 370.79,285.92 376,287.4" fill="none" stroke="#1f5a7a" stroke-width="1.1"/>
<rect x="315" y="234" width="6" height="6" fill="#a8000c" />
<rect x="327" y="229" width="6" height="6" fill="#a8000c" />
<rect x="341" y="220" width="6" height="6" fill="#a8000c" />
<rect x="359" y="237" width="6" height="6" fill="#a8000c" />
<rect x="382" y="254" width="6" height="6" fill="#a8000c" />
<rect x="406.4" y="255" width="6" height="6" fill="#a8000c" />
<rect x="263" y="278" width="6" height="6" fill="#1e5070" />
<rect x="278" y="273.6" width="6" height="6" fill="#1e5070" />
<rect x="295" y="268.4" width="6" height="6" fill="#1e5070" />
<rect x="315" y="270" width="6" height="6" fill="#1e5070" />
<rect x="341" y="275" width="6" height="6" fill="#1e5070" />
<rect x="373" y="284.4" width="6" height="6" fill="#1e5070" />
<line x1="261" y1="194.4" x2="267.4" y2="194.4" stroke="#b01020" stroke-width="1" />
<line x1="276" y1="194.4" x2="281" y2="194.4" stroke="#b01020" stroke-width="1" />
<rect x="268.8" y="191.6" width="5.6" height="5.6" fill="#a8000c" />
<text x="285.6" y="198.4" font-size="10" fill="#b3202a">Cu–Ti<tspan dy="2.5" font-size="7.5">1</tspan><tspan dy="-2.5">O</tspan><tspan dy="2.5" font-size="7.5">3</tspan></text>
<line x1="261" y1="209" x2="267.4" y2="209" stroke="#5a8aa8" stroke-width="1" />
<line x1="276" y1="209" x2="281" y2="209" stroke="#5a8aa8" stroke-width="1" />
<rect x="268.8" y="206.2" width="5.6" height="5.6" fill="#1e5070" />
<text x="285.6" y="213" font-size="10" fill="#2a5a7a">Cu–O<tspan dy="2.5" font-size="7.5">4</tspan><tspan dy="-2.5">(Ti)</tspan></text>
<polygon points="535.7,207.6 598.47,253.2 574.49,327 496.91,327 472.93,253.2" fill="#f8d2c9" />
<polygon points="535.7,260.4 548.25,269.52 543.46,284.28 527.94,284.28 523.15,269.52" fill="none" stroke="#a9b4bc" stroke-width="1"/>
<polygon points="535.7,247.2 560.81,265.44 551.22,294.96 520.18,294.96 510.59,265.44" fill="none" stroke="#a9b4bc" stroke-width="1"/>
<polygon points="535.7,234 573.36,261.36 558.98,305.64 512.42,305.64 498.04,261.36" fill="none" stroke="#a9b4bc" stroke-width="1"/>
<polygon points="535.7,220.8 585.92,257.28 566.74,316.32 504.66,316.32 485.48,257.28" fill="none" stroke="#a9b4bc" stroke-width="1"/>
<polygon points="535.7,207.6 598.47,253.2 574.49,327 496.91,327 472.93,253.2" fill="none" stroke="#a9b4bc" stroke-width="1"/>
<line x1="535.7" y1="273.6" x2="535.7" y2="207.6" stroke="#a9b4bc" stroke-width="1" />
<line x1="535.7" y1="273.6" x2="598.47" y2="253.2" stroke="#a9b4bc" stroke-width="1" />
<line x1="535.7" y1="273.6" x2="574.49" y2="327" stroke="#a9b4bc" stroke-width="1" />
<line x1="535.7" y1="273.6" x2="496.91" y2="327" stroke="#a9b4bc" stroke-width="1" />
<line x1="535.7" y1="273.6" x2="472.93" y2="253.2" stroke="#a9b4bc" stroke-width="1" />
<polygon points="519.5,296 530.3,281.4 535.6,272.2 577.8,259.5 597.7,253.4 562.4,310.5 528,301.4" fill="#aaa3d2" />
<polygon points="577.8,259.5 597.7,253.4 562.4,310.5 556.3,301.3" fill="#b9a2c9" />
<polygon points="535.6,260.4 580.8,258 597.7,253.4 577.8,259.5 535.6,272.2" fill="#5b97bf" />
<polygon points="535.6,265.8 577.8,259.5 535.6,272.4" fill="#2f6d94" />
<polygon points="519.5,296 528,301.4 562.4,310.5 565,305.5 561,307.2 529.5,298.6 522,294" fill="#4f95c4" />
<polygon points="496.5,327.4 519.3,296.7 527.8,301.6 531,302.2" fill="#4a9fd6" />
<polygon points="496.5,327.4 531,302.2 526,303.2 505,318.5" fill="#86bfe4" />
<polygon points="496.5,327.4 515,311.2 503,321" fill="#b2daf0" />
<polygon points="530.3,281.4 535.6,272.2 577.8,259.5 556.3,301.3" fill="#c76583" />
<polygon points="597.7,253.4 600,256 581,288 578.5,285" fill="#f5c3d2" />
<line x1="528" y1="304.3" x2="597.7" y2="253.4" stroke="#8c8fc4" stroke-width="0.6" />
<line x1="597.7" y1="253.4" x2="562.4" y2="310.5" stroke="#7a98c8" stroke-width="0.8" />
<g opacity="0.22">
<polygon points="535.7,260.4 548.25,269.52 543.46,284.28 527.94,284.28 523.15,269.52" fill="none" stroke="#a9b4bc" stroke-width="1"/>
<polygon points="535.7,247.2 560.81,265.44 551.22,294.96 520.18,294.96 510.59,265.44" fill="none" stroke="#a9b4bc" stroke-width="1"/>
<polygon points="535.7,234 573.36,261.36 558.98,305.64 512.42,305.64 498.04,261.36" fill="none" stroke="#a9b4bc" stroke-width="1"/>
<polygon points="535.7,220.8 585.92,257.28 566.74,316.32 504.66,316.32 485.48,257.28" fill="none" stroke="#a9b4bc" stroke-width="1"/>
<polygon points="535.7,207.6 598.47,253.2 574.49,327 496.91,327 472.93,253.2" fill="none" stroke="#a9b4bc" stroke-width="1"/>
<line x1="535.7" y1="273.6" x2="535.7" y2="207.6" stroke="#a9b4bc" stroke-width="1" />
<line x1="535.7" y1="273.6" x2="598.47" y2="253.2" stroke="#a9b4bc" stroke-width="1" />
<line x1="535.7" y1="273.6" x2="574.49" y2="327" stroke="#a9b4bc" stroke-width="1" />
<line x1="535.7" y1="273.6" x2="496.91" y2="327" stroke="#a9b4bc" stroke-width="1" />
<line x1="535.7" y1="273.6" x2="472.93" y2="253.2" stroke="#a9b4bc" stroke-width="1" />
</g>
<circle cx="598.4" cy="253.4" r="1.1" fill="#4ad04a" />
<circle cx="496.8" cy="327" r="1.1" fill="#4ad04a" />
<text x="541.2" y="193" font-size="10.3" text-anchor="middle" fill="#1a1a1a">TOF<tspan dy="2.5" font-size="6.5">CH4</tspan><tspan dy="-2.5"> (h</tspan><tspan dy="-3.5" font-size="6.5">-1</tspan><tspan dy="3.5">)</tspan></text>
<text x="538.6" y="206" font-size="10.3" text-anchor="middle" fill="#1a1a1a" >24930</text>
<text x="594" y="214.3" font-size="10.3" text-anchor="middle" fill="#1a1a1a" >CH<tspan dy="2.5" font-size="7">4</tspan></text>
<text x="595.1" y="228.6" font-size="9.7" text-anchor="middle" fill="#1a1a1a" >selectivity</text>
<text x="592.4" y="239.6" font-size="10.3" text-anchor="middle" fill="#1a1a1a" >(%)</text>
<text x="600" y="257.3" font-size="10.3" text-anchor="start" fill="#1a1a1a" >94</text>
<text x="460.2" y="241.5" font-size="10.8" text-anchor="middle" fill="#1a1a1a" >Stability (h)</text>
<text x="458.3" y="256" font-size="10.3" text-anchor="middle" fill="#1a1a1a" >1235</text>
<text x="489.5" y="337.8" font-size="10.3" text-anchor="middle" fill="#1a1a1a" >39</text>
<text x="580" y="337.8" font-size="10.3" text-anchor="middle" fill="#1a1a1a" >670</text>
<text x="482.5" y="349.5" font-size="10.8" text-anchor="middle" fill="#1a1a1a">EE<tspan dy="2.5" font-size="6.5">CH4</tspan><tspan dy="-2.5"> (%)</tspan></text>
<text x="551" y="349.5" font-size="10.8" fill="#1a1a1a"><tspan font-style="italic">J</tspan><tspan dy="2.5" font-size="6.8">CH4</tspan><tspan dy="-2.5" font-size="9.6"> (mA cm</tspan><tspan dy="-3.5" font-size="6.5">-2</tspan><tspan dy="3.5" font-size="9.6">)</tspan></text>
<rect x="619" y="223.4" width="15.8" height="7.6" fill="#f8d2c9" />
<text x="637.2" y="230.2" font-size="8.3" fill="#1a1a1a" textLength="30.4" lengthAdjust="spacingAndGlyphs">This work</text>
<rect x="619" y="232.2" width="15.8" height="7.4" fill="#5a88a6" />
<rect x="619.4" y="232.6" width="15" height="6.6" fill="none" stroke="#2a4a60" stroke-width="0.8" stroke-opacity="0.6"/>
<text x="637.2" y="238.9" font-size="8.3" fill="#1a1a1a" textLength="50" lengthAdjust="spacingAndGlyphs">Cu-SAs/HGDY</text>
<rect x="619" y="241.4" width="15.8" height="7.1" fill="#5898c2" />
<rect x="619.4" y="241.8" width="15" height="6.3" fill="none" stroke="#2a4a60" stroke-width="0.8" stroke-opacity="0.6"/>
<text x="637.2" y="247.95" font-size="8.3" fill="#1a1a1a" textLength="26.3" lengthAdjust="spacingAndGlyphs">BNC-Cu</text>
<rect x="619" y="249.9" width="15.8" height="7.3" fill="#62afe0" />
<rect x="619.4" y="250.3" width="15" height="6.5" fill="none" stroke="#2a4a60" stroke-width="0.8" stroke-opacity="0.6"/>
<text x="637.2" y="256.55" font-size="8.3" fill="#1a1a1a" textLength="45.2" lengthAdjust="spacingAndGlyphs">Ir<tspan dy="1.5" font-size="5">1</tspan><tspan dy="-1.5">-Cu</tspan><tspan dy="1.5" font-size="5">3</tspan><tspan dy="-1.5">N/Cu</tspan><tspan dy="1.5" font-size="5">2</tspan><tspan dy="-1.5">O</tspan></text>
<rect x="619" y="260.3" width="15.8" height="7.4" fill="#7cbde2" />
<rect x="619.4" y="260.7" width="15" height="6.6" fill="none" stroke="#2a4a60" stroke-width="0.8" stroke-opacity="0.6"/>
<text x="637.2" y="267" font-size="8.3" fill="#1a1a1a" textLength="40.8" lengthAdjust="spacingAndGlyphs">Cu SAs/GDY</text>
<rect x="619" y="269.3" width="15.8" height="7.2" fill="#c4e0f0" />
<rect x="619.4" y="269.7" width="15" height="6.4" fill="none" stroke="#6a8aa0" stroke-width="0.8" stroke-opacity="0.6"/>
<text x="637.2" y="275.9" font-size="8.3" fill="#1a1a1a" textLength="26.3" lengthAdjust="spacingAndGlyphs">Cu-DBC</text>
<rect x="619" y="278.2" width="15.8" height="7.4" fill="#d892a2" />
<rect x="619.4" y="278.6" width="15" height="6.6" fill="none" stroke="#9a7a80" stroke-width="0.8" stroke-opacity="0.6"/>
<text x="637.2" y="284.9" font-size="8.3" fill="#1a1a1a" textLength="31" lengthAdjust="spacingAndGlyphs">Pul(3)-Cu</text>
<rect x="619" y="287.2" width="15.8" height="7.5" fill="#f0a2aa" />
<rect x="619.4" y="287.6" width="15" height="6.7" fill="none" stroke="#9a7a80" stroke-width="0.8" stroke-opacity="0.6"/>
<text x="637.2" y="293.95" font-size="8.3" fill="#1a1a1a" textLength="33.8" lengthAdjust="spacingAndGlyphs">CuPEDOT</text>
<rect x="619" y="296" width="15.8" height="7" fill="#f890a8" />
<rect x="619.4" y="296.4" width="15" height="6.2" fill="none" stroke="#9a7a80" stroke-width="0.8" stroke-opacity="0.6"/>
<text x="637.2" y="302.5" font-size="8.3" fill="#1a1a1a" textLength="35" lengthAdjust="spacingAndGlyphs">Cu-N/IPCF</text>
<rect x="619" y="304.9" width="15.8" height="7.7" fill="#fad2dc" />
<rect x="619.4" y="305.3" width="15" height="6.9" fill="none" stroke="#c0a0a8" stroke-width="0.8" stroke-opacity="0.6"/>
<text x="637.2" y="311.75" font-size="8.3" fill="#1a1a1a" textLength="29" lengthAdjust="spacingAndGlyphs">Cu<tspan dy="1.5" font-size="5">1</tspan><tspan dy="-1.5">/PCN</tspan></text>
<line x1="619" y1="240.4" x2="634.8" y2="240.4" stroke="#8a8a8a" stroke-width="0.8" />
<line x1="619" y1="258.8" x2="634.8" y2="258.8" stroke="#8a8a8a" stroke-width="0.8" />
<line x1="619" y1="277.3" x2="634.8" y2="277.3" stroke="#8a8a8a" stroke-width="0.8" />
<line x1="619" y1="286.4" x2="634.8" y2="286.4" stroke="#8a8a8a" stroke-width="0.8" />
<line x1="619" y1="295.3" x2="634.8" y2="295.3" stroke="#8a8a8a" stroke-width="0.8" />
<line x1="619" y1="304" x2="634.8" y2="304" stroke="#8a8a8a" stroke-width="0.8" />
<rect x="52.5" y="383.5" width="589" height="135" fill="none" stroke="#2b2b2b" stroke-width="1.2"/>
<line x1="48.8" y1="383.5" x2="52" y2="383.5" stroke="#2b2b2b" stroke-width="1.1" />
<text x="47.6" y="386.5" font-size="11" text-anchor="end" fill="#1a1a1a" >-3.0</text>
<line x1="48.8" y1="410.5" x2="52" y2="410.5" stroke="#2b2b2b" stroke-width="1.1" />
<text x="47.6" y="413.5" font-size="11" text-anchor="end" fill="#1a1a1a" >-3.5</text>
<line x1="48.8" y1="437.5" x2="52" y2="437.5" stroke="#2b2b2b" stroke-width="1.1" />
<text x="47.6" y="440.5" font-size="11" text-anchor="end" fill="#1a1a1a" >-4.0</text>
<line x1="48.8" y1="464.5" x2="52" y2="464.5" stroke="#2b2b2b" stroke-width="1.1" />
<text x="47.6" y="467.5" font-size="11" text-anchor="end" fill="#1a1a1a" >-4.5</text>
<line x1="48.8" y1="491.5" x2="52" y2="491.5" stroke="#2b2b2b" stroke-width="1.1" />
<text x="47.6" y="494.5" font-size="11" text-anchor="end" fill="#1a1a1a" >-5.0</text>
<line x1="48.8" y1="518.5" x2="52" y2="518.5" stroke="#2b2b2b" stroke-width="1.1" />
<text x="47.6" y="521.5" font-size="11" text-anchor="end" fill="#1a1a1a" >-5.5</text>
<line x1="50.4" y1="396.5" x2="52" y2="396.5" stroke="#2b2b2b" stroke-width="1.1" />
<line x1="50.4" y1="423.5" x2="52" y2="423.5" stroke="#2b2b2b" stroke-width="1.1" />
<line x1="50.4" y1="450.5" x2="52" y2="450.5" stroke="#2b2b2b" stroke-width="1.1" />
<line x1="50.4" y1="477.5" x2="52" y2="477.5" stroke="#2b2b2b" stroke-width="1.1" />
<line x1="50.4" y1="504.5" x2="52" y2="504.5" stroke="#2b2b2b" stroke-width="1.1" />
<line x1="641" y1="400.5" x2="644.2" y2="400.5" stroke="#2b2b2b" stroke-width="1.1" />
<text x="645.4" y="403.1" font-size="11" text-anchor="start" fill="#1a1a1a" >80</text>
<line x1="641" y1="434.5" x2="644.2" y2="434.5" stroke="#2b2b2b" stroke-width="1.1" />
<text x="645.4" y="437.1" font-size="11" text-anchor="start" fill="#1a1a1a" >60</text>
<line x1="641" y1="468.5" x2="644.2" y2="468.5" stroke="#2b2b2b" stroke-width="1.1" />
<text x="645.4" y="471.1" font-size="11" text-anchor="start" fill="#1a1a1a" >40</text>
<line x1="641" y1="502.5" x2="644.2" y2="502.5" stroke="#2b2b2b" stroke-width="1.1" />
<text x="645.4" y="505.1" font-size="11" text-anchor="start" fill="#1a1a1a" >20</text>
<line x1="641" y1="417.5" x2="642.6" y2="417.5" stroke="#2b2b2b" stroke-width="1.1" />
<line x1="641" y1="451.5" x2="642.6" y2="451.5" stroke="#2b2b2b" stroke-width="1.1" />
<line x1="641" y1="485.5" x2="642.6" y2="485.5" stroke="#2b2b2b" stroke-width="1.1" />
<line x1="51.5" y1="518.4" x2="51.5" y2="521.6" stroke="#2b2b2b" stroke-width="1.1" />
<text x="51.7" y="532.3" font-size="11" text-anchor="middle" fill="#1a1a1a" >0</text>
<line x1="147.5" y1="518.4" x2="147.5" y2="521.6" stroke="#2b2b2b" stroke-width="1.1" />
<text x="147" y="532.3" font-size="11" text-anchor="middle" fill="#1a1a1a" >200</text>
<line x1="242.5" y1="518.4" x2="242.5" y2="521.6" stroke="#2b2b2b" stroke-width="1.1" />
<text x="242.3" y="532.3" font-size="11" text-anchor="middle" fill="#1a1a1a" >400</text>
<line x1="337.5" y1="518.4" x2="337.5" y2="521.6" stroke="#2b2b2b" stroke-width="1.1" />
<text x="337.6" y="532.3" font-size="11" text-anchor="middle" fill="#1a1a1a" >600</text>
<line x1="432.5" y1="518.4" x2="432.5" y2="521.6" stroke="#2b2b2b" stroke-width="1.1" />
<text x="432.9" y="532.3" font-size="11" text-anchor="middle" fill="#1a1a1a" >800</text>
<line x1="528.5" y1="518.4" x2="528.5" y2="521.6" stroke="#2b2b2b" stroke-width="1.1" />
<text x="528.2" y="532.3" font-size="11" text-anchor="middle" fill="#1a1a1a" >1000</text>
<line x1="623.5" y1="518.4" x2="623.5" y2="521.6" stroke="#2b2b2b" stroke-width="1.1" />
<text x="623.5" y="532.3" font-size="11" text-anchor="middle" fill="#1a1a1a" >1200</text>
<line x1="99.5" y1="518.4" x2="99.5" y2="520" stroke="#2b2b2b" stroke-width="1.1" />
<line x1="194.5" y1="518.4" x2="194.5" y2="520" stroke="#2b2b2b" stroke-width="1.1" />
<line x1="289.5" y1="518.4" x2="289.5" y2="520" stroke="#2b2b2b" stroke-width="1.1" />
<line x1="385.5" y1="518.4" x2="385.5" y2="520" stroke="#2b2b2b" stroke-width="1.1" />
<line x1="480.5" y1="518.4" x2="480.5" y2="520" stroke="#2b2b2b" stroke-width="1.1" />
<line x1="575.5" y1="518.4" x2="575.5" y2="520" stroke="#2b2b2b" stroke-width="1.1" />
<text x="346.3" y="551" font-size="15.9" text-anchor="middle" fill="#1a1a1a" >Time (h)</text>
<text transform="translate(17,454) rotate(-90)" font-size="12.05" text-anchor="middle" fill="#1a1a1a">Full-cell voltage (V)</text>
<text transform="translate(676,445.5) rotate(-90)" font-size="11.5" text-anchor="middle" fill="#1a1a1a">FE<tspan dy="3" font-size="7.5">CH4</tspan><tspan dy="-3"> (%)</tspan></text>
<polyline points="52,441.87 52.8,441.92 53.6,441.62 54.4,442.13 55.2,441.82 56,441.92 56.8,441.92 57.6,441.74 58.4,442.09 59.2,442.01 60,441.66 60.8,441.91 61.6,441.62 62.4,441.83 63.2,442.02 64,442.03 64.8,441.96 65.6,442.01 66.4,440.94 67.2,442 68,441.82 68.8,441.75 69.6,441.66 70.4,441.76 71.2,441.8 72,441.88 72.8,440.42 73.6,441.91 74.4,441.7 75.2,441.5 76,441.67 76.8,441.41 77.6,440.58 78.4,440.83 79.2,441.72 80,441.35 80.8,441.34 81.6,441.47 82.4,441.78 83.2,441.78 84,441.3 84.8,440.42 85.6,441.1 86.4,441.66 87.2,441.7 88,441.39 88.8,441.45 89.6,441.48 90.4,441.48 91.2,441.41 92,441.5 92.8,441.28 93.6,441.38 94.4,441.11 95.2,440.31 96,440.31 96.8,441.3 97.6,441.24 98.4,440.95 99.2,441.37 100,441.15 100.8,441.31 101.6,441.18 102.4,441.17 103.2,441.12 104,440.32 104.8,441.32 105.6,441.05 106.4,440.17 107.2,440.51 108,441.07 108.8,441.11 109.6,440.96 110.4,441.19 111.2,441.08 112,440.9 112.8,440.92 113.6,440.53 114.4,441.21 115.2,441.2 116,440.85 116.8,441.17 117.6,440.93 118.4,440.95 119.2,440.79 120,441.19 120.8,441.2 121.6,441.17 122.4,440.79 123.2,441.09 124,440.92 124.8,440.82 125.6,440.67 126.4,440.77 127.2,440.63 128,440.95 128.8,441.03 129.6,439.64 130.4,440.65 131.2,440.88 132,440.74 132.8,440.83 133.6,440.64 134.4,440.74 135.2,439.68 136,439.61 136.8,440.93 137.6,439.77 138.4,440.17 139.2,440.56 140,440.63 140.8,440.33 141.6,439.98 142.4,440.87 143.2,440.41 144,440.51 144.8,440.52 145.6,440.63 146.4,440.42 147.2,440.37 148,440.65 148.8,439.51 149.6,440.57 150.4,440.45 151.2,438.86 152,438.74 152.8,438.9 153.6,438.9 154.4,438.67 155.2,438.03 156,438.76 156.8,439.02 157.6,439 158.4,438.68 159.2,438.61 160,438.88 160.8,438.95 161.6,438.92 162.4,438.6 163.2,437.3 164,438.06 164.8,438.56 165.6,437.64 166.4,438.89 167.2,439.03 168,437.71 168.8,438.81 169.6,438.6 170.4,438.26 171.2,438.83 172,438 172.8,438.86 173.6,438.75 174.4,438.75 175.2,437.81 176,439.04 176.8,437.76 177.6,438.93 178.4,438.81 179.2,438.87 180,437.4 180.8,439.01 181.6,438.77 182.4,438.64 183.2,438.65 184,438.71 184.8,438.9 185.6,438.7 186.4,438.76 187.2,438.84 188,437.73 188.8,437.94 189.6,438.71 190.4,438.62 191.2,438.79 192,438.78 192.8,438.96 193.6,438.79 194.4,438.98 195.2,438.92 196,438.78 196.8,438.67 197.6,438.89 198.4,438.98 199.2,438.64 200,438.64 200.8,438.98 201.6,438.68 202.4,438.71 203.2,438.41 204,438.97 204.8,438.73 205.6,438.12 206.4,438.77 207.2,438.66 208,439.03 208.8,438.12 209.6,437.51 210.4,437.57 211.2,438.74 212,438.93 212.8,438.89 213.6,438.95 214.4,438.93 215.2,438.89 216,438.61 216.8,438.73 217.6,438.89 218.4,438.64 219.2,437.49 220,437.45 220.8,438.62 221.6,438.91 222.4,438.83 223.2,438.78 224,437.45 224.8,438.93 225.6,438.92 226.4,438.68 227.2,438.03 228,438.67 228.8,438.73 229.6,438.75 230.4,438.94 231.2,438.28 232,437.34 232.8,438.38 233.6,439.14 234.4,439.65 235.2,439.01 236,439.96 236.8,440.46 237.6,440.6 238.4,440.8 239.2,441.54 240,441.6 240.8,442.01 241.6,442.51 242.4,442.48 243.2,442.88 244,442.07 244.8,443.27 245.6,443.19 246.4,443.02 247.2,442.93 248,443.23 248.8,443.18 249.6,442.06 250.4,442.4 251.2,442 252,443.33 252.8,443.29 253.6,442.91 254.4,443.14 255.2,443.19 256,442.99 256.8,443.28 257.6,443.02 258.4,442.59 259.2,442.83 260,442.86 260.8,443.12 261.6,442.97 262.4,442.91 263.2,443.12 264,442.83 264.8,443.09 265.6,442.9 266.4,443.01 267.2,442.7 268,442.18 268.8,442.78 269.6,442.76 270.4,442.23 271.2,442.74 272,441.79 272.8,442.85 273.6,442.66 274.4,441.36 275.2,441.8 276,442.69 276.8,442.32 277.6,442.95 278.4,442.98 279.2,443.04 280,442.69 280.8,442.96 281.6,441.57 282.4,443.02 283.2,442.03 284,442.15 284.8,442.84 285.6,442.61 286.4,442.73 287.2,442.95 288,442.5 288.8,442.77 289.6,442.51 290.4,442.05 291.2,442.61 292,441.69 292.8,442.8 293.6,442.7 294.4,442.59 295.2,442.52 296,442.63 296.8,442.47 297.6,442.68 298.4,442.56 299.2,442.44 300,442.36 300.8,442.72 301.6,442.38 302.4,442.75 303.2,442.76 304,442.53 304.8,442.67 305.6,441.64 306.4,441.73 307.2,441.22 308,441.82 308.8,442.58 309.6,442.25 310.4,442.72 311.2,442.51 312,442.61 312.8,442.61 313.6,441.81 314.4,442.18 315.2,441.29 316,442.22 316.8,442.28 317.6,442.47 318.4,442.53 319.2,442.32 320,441.04 320.8,442.43 321.6,442.22 322.4,442.34 323.2,442.14 324,441.33 324.8,442.45 325.6,442.4 326.4,442.18 327.2,442.56 328,441.63 328.8,442.13 329.6,442.4 330.4,442.52 331.2,442.48 332,442.22 332.8,442.45 333.6,442.23 334.4,442.19 335.2,442.43 336,441.93 336.8,442.32 337.6,442.21 338.4,441.96 339.2,442.07 340,442.1 340.8,442.29 341.6,441.96 342.4,441.53 343.2,442.27 344,442.37 344.8,442.31 345.6,441.94 346.4,442.09 347.2,442.12 348,442.26 348.8,442.06 349.6,442.22 350.4,441.93 351.2,440.82 352,441.61 352.8,441.89 353.6,442.01 354.4,442.16 355.2,441.36 356,441.97 356.8,441.77 357.6,441.78 358.4,441.85 359.2,441.93 360,441.73 360.8,442.01 361.6,442.15 362.4,440.57 363.2,442.07 364,442.08 364.8,441.38 365.6,441.97 366.4,442.09 367.2,441.97 368,442.03 368.8,441.82 369.6,440.54 370.4,442.09 371.2,441.79 372,441.81 372.8,441.8 373.6,441.64 374.4,441.82 375.2,441.97 376,442 376.8,441.54 377.6,441.8 378.4,441.65 379.2,440.82 380,441.68 380.8,441.93 381.6,440.39 382.4,441.56 383.2,441.88 384,441.59 384.8,441.92 385.6,441.63 386.4,441.49 387.2,441.26 388,440.53 388.8,441.77 389.6,441.71 390.4,441.39 391.2,441.16 392,441.61 392.8,440.97 393.6,440.43 394.4,441.43 395.2,441.67 396,440.16 396.8,440.1 397.6,440.29 398.4,441.57 399.2,441.34 400,441.78 400.8,440.8 401.6,441.44 402.4,439.86 403.2,441.75 404,441.36 404.8,441.71 405.6,441.57 406.4,441.22 407.2,441.58 408,441.48 408.8,441.46 409.6,441.45 410.4,441.27 411.2,441.63 412,441.24 412.8,440.87 413.6,439.76 414.4,441.33 415.2,439.82 416,441.51 416.8,441.44 417.6,440.48 418.4,440.24 419.2,441.24 420,441.25 420.8,441.24 421.6,441.54 422.4,441.47 423.2,441.18 424,440.21 424.8,441.38 425.6,441.33 426.4,441.48 427.2,441.23 428,441.42 428.8,441.24 429.6,440.41 430.4,441.38 431.2,440.88 432,441.43 432.8,441.81 433.6,442.29 434.4,442.62 435.2,443.15 436,443.33 436.8,443.77 437.6,444.28 438.4,443.8 439.2,444.34 440,443.47 440.8,443.3 441.6,444.61 442.4,444.52 443.2,444.57 444,444.37 444.8,444.21 445.6,444.34 446.4,444.6 447.2,444.24 448,444.02 448.8,443.01 449.6,444.24 450.4,444.34 451.2,444.37 452,444.48 452.8,444.2 453.6,443.61 454.4,444.53 455.2,443.26 456,444.36 456.8,444.56 457.6,444.36 458.4,444.59 459.2,443.24 460,444.16 460.8,444.41 461.6,444.19 462.4,444.38 463.2,444.42 464,444.64 464.8,444.41 465.6,444.3 466.4,444.22 467.2,444.46 468,444.53 468.8,444.58 469.6,443.38 470.4,442.95 471.2,444.26 472,443.21 472.8,444.35 473.6,443.29 474.4,444.34 475.2,443.73 476,443.67 476.8,444.28 477.6,443.68 478.4,444.37 479.2,444.27 480,444.26 480.8,443.23 481.6,444.35 482.4,444.45 483.2,443.11 484,444.58 484.8,444.44 485.6,444.6 486.4,444.26 487.2,444.64 488,444.65 488.8,444.24 489.6,444.32 490.4,443.46 491.2,444.58 492,444.42 492.8,444.37 493.6,444.44 494.4,443.01 495.2,444.43 496,444.6 496.8,444.42 497.6,444.57 498.4,443.15 499.2,444.52 500,444.39 500.8,444.27 501.6,444.43 502.4,444.2 503.2,444.31 504,444.24 504.8,444.25 505.6,443.98 506.4,444.39 507.2,443.89 508,444.42 508.8,444.58 509.6,443.64 510.4,444.31 511.2,444.21 512,444.39 512.8,444.28 513.6,444.24 514.4,443.76 515.2,444.64 516,444.52 516.8,444.2 517.6,444.53 518.4,444.38 519.2,444.31 520,444.23 520.8,444.28 521.6,444.34 522.4,444.52 523.2,444.49 524,444.55 524.8,444.42 525.6,443.76 526.4,444.47 527.2,444.53 528,444.63 528.8,444.51 529.6,444.17 530.4,444.52 531.2,442.77 532,444.52 532.8,443.52 533.6,444.48 534.4,443.14 535.2,444.18 536,444.19 536.8,444.35 537.6,444.65 538.4,444.28 539.2,444.15 540,444.06 540.8,444.41 541.6,443.35 542.4,444.34 543.2,444.37 544,444.31 544.8,444.38 545.6,444.32 546.4,443.61 547.2,444.44 548,444.45 548.8,443.39 549.6,444.25 550.4,444.28 551.2,444.45 552,444.52 552.8,444.36 553.6,444.18 554.4,442.98 555.2,444.44 556,442.87 556.8,444.23 557.6,443.7 558.4,444.39 559.2,444.61 560,444.16 560.8,444.15 561.6,444.58 562.4,444.17 563.2,444.3 564,444.3 564.8,444.22 565.6,444.19 566.4,444.17 567.2,443.03 568,444.42 568.8,444.4 569.6,444.19 570.4,444.41 571.2,443.01 572,444.61 572.8,444.51 573.6,444.35 574.4,443.71 575.2,444.52 576,444.39 576.8,444.33 577.6,444.52 578.4,444.39 579.2,443.65 580,444.44 580.8,443.76 581.6,444.24 582.4,444.28 583.2,444.43 584,443.16 584.8,444.53 585.6,444.51 586.4,444.26 587.2,444.25 588,444.47 588.8,444.2 589.6,444.39 590.4,444.4 591.2,444.25 592,444.47 592.8,443.23 593.6,444.55 594.4,443.39 595.2,443.55 596,444.62 596.8,444.58 597.6,443.73 598.4,444.56 599.2,444.31 600,444.61 600.8,444.16 601.6,444.31 602.4,444.64 603.2,444.19 604,444.27 604.8,444.62 605.6,444.6 606.4,444.3 607.2,444.42 608,444.35 608.8,444.3 609.6,444.62 610.4,443.88 611.2,442.79 612,444.6 612.8,443.56 613.6,444.18 614.4,444.28 615.2,444.62 616,444.61 616.8,443.09 617.6,444.35 618.4,444.48 619.2,443.24 620,444.16 620.8,443.56 621.6,444.21 622.4,444.42 623.2,444.32 624,444.39 624.8,444.37 625.6,443.8 626.4,444.57 627.2,444.34 628,444.57 628.8,444.33 629.6,444.16 630.4,444.39 631.2,444.38 632,443.03 632.8,444.21 633.6,444.24 634.4,443.29 635.2,444.57 636,444.59 636.8,444.18 637.6,444.2 638.4,444.38 639.2,444.55 640,444.49 640.8,443.04" fill="none" stroke="#b01828" stroke-width="0.75" />
<line x1="56.6" y1="441.93" x2="56.6" y2="438.93" stroke="#b52535" stroke-width="0.8" />
<line x1="151" y1="438.8" x2="151" y2="433.3" stroke="#b52535" stroke-width="0.8" />
<line x1="156" y1="438.8" x2="156" y2="434.8" stroke="#b52535" stroke-width="0.8" />
<line x1="184" y1="438.8" x2="184" y2="433.8" stroke="#b52535" stroke-width="0.8" />
<line x1="205" y1="438.8" x2="205" y2="435.8" stroke="#b52535" stroke-width="0.8" />
<line x1="240" y1="441.66" x2="240" y2="439.66" stroke="#b52535" stroke-width="0.8" />
<line x1="315" y1="442.44" x2="315" y2="440.44" stroke="#b52535" stroke-width="0.8" />
<line x1="346" y1="442.11" x2="346" y2="436.11" stroke="#b52535" stroke-width="0.8" />
<line x1="395" y1="441.59" x2="395" y2="439.59" stroke="#b52535" stroke-width="0.8" />
<line x1="500" y1="444.4" x2="500" y2="442.4" stroke="#b52535" stroke-width="0.8" />
<line x1="600" y1="444.4" x2="600" y2="442.4" stroke="#b52535" stroke-width="0.8" />
<polygon points="232.6,438.6 244,443.2 244,444.3 232.6,444.3" fill="#a8101e" />
<polygon points="432.5,441 437,443.6 441,444.3 441,445.8 433.5,445.8" fill="#a8101e" />
<polygon points="52,489.59 52.5,490.01 53,489.89 53.5,489.34 54,489.34 54.5,489.41 55,489.86 55.5,489.52 56,490.15 56.5,490.84 57,491.57 57.5,491.68 58,491.07 58.5,491.33 59,491.24 59.5,491.85 60,491.81 60.5,491.28 61,492.09 61.5,491.71 62,491.94 62.5,492.42 63,491.82 63.5,492.22 64,492.53 64.5,492.89 65,492.28 65.5,492.02 66,491.95 66.5,494.9 67,495.12 67.5,494.98 68,494.93 68.5,495.32 69,494.97 69.5,494.56 70,495.34 70.5,495.64 71,495.2 71.5,494.84 72,495.1 72.5,495.6 73,495.81 73.5,496.24 74,496 74.5,496.68 75,497.13 75.5,496.61 76,496.83 76.5,498.19 77,497.4 77.5,497.61 78,498.18 78.5,497.62 79,498.2 79.5,499.04 80,497.6 80.5,497.88 81,498.23 81.5,498.28 82,497.79 82.5,497.52 82.5,501.45 82,501.41 81.5,502.42 81,502.34 80.5,501.05 80,501.5 79.5,503.04 79,502.04 78.5,501.26 78,501.62 77.5,501.34 77,500.8 76.5,501.49 76,501.08 75.5,500.25 75,501.36 74.5,500.93 74,499.68 73.5,500.48 73,499.23 72.5,499.69 72,498.35 71.5,498.54 71,499.17 70.5,499.11 70,499.73 69.5,498.57 69,498.93 68.5,499.65 68,498.62 67.5,498.86 67,498.63 66.5,498.75 66,495.92 65.5,495.76 65,496.36 64.5,496.14 64,496 63.5,496.46 63,495.66 62.5,496.42 62,495.43 61.5,495.58 61,495.75 60.5,494.65 60,494.99 59.5,495.44 59,495.1 58.5,495.49 58,494.33 57.5,495.16 57,494.73 56.5,494.46 56,494.48 55.5,492.91 55,494.03 54.5,492.63 54,493.01 53.5,493.1 53,493.47 52.5,493.2 52,492.88" fill="#1e5070" />
<line x1="52.3" y1="493.31" x2="52.3" y2="494.6" stroke="#2a6a8c" stroke-width="0.8" />
<line x1="53.05" y1="493.35" x2="53.05" y2="495.35" stroke="#2a6a8c" stroke-width="0.8" />
<line x1="53.68" y1="493.38" x2="53.68" y2="494.61" stroke="#2a6a8c" stroke-width="0.8" />
<line x1="54.35" y1="493.42" x2="54.35" y2="495.55" stroke="#2a6a8c" stroke-width="0.8" />
<line x1="55.57" y1="493.48" x2="55.57" y2="496.54" stroke="#2a6a8c" stroke-width="0.8" />
<line x1="56.34" y1="494.17" x2="56.34" y2="496.21" stroke="#2a6a8c" stroke-width="0.8" />
<line x1="57.03" y1="494.51" x2="57.03" y2="498.06" stroke="#2a6a8c" stroke-width="0.8" />
<line x1="57.95" y1="494.98" x2="57.95" y2="497.43" stroke="#2a6a8c" stroke-width="0.8" />
<line x1="58.63" y1="495.08" x2="58.63" y2="497.11" stroke="#2a6a8c" stroke-width="0.8" />
<line x1="59.81" y1="495.23" x2="59.81" y2="496.71" stroke="#2a6a8c" stroke-width="0.8" />
<line x1="61.07" y1="495.38" x2="61.07" y2="497.97" stroke="#2a6a8c" stroke-width="0.8" />
<line x1="62.05" y1="495.51" x2="62.05" y2="496.59" stroke="#2a6a8c" stroke-width="0.8" />
<line x1="63.34" y1="495.67" x2="63.34" y2="499.26" stroke="#2a6a8c" stroke-width="0.8" />
<line x1="64.12" y1="495.77" x2="64.12" y2="497.87" stroke="#2a6a8c" stroke-width="0.8" />
<line x1="65.26" y1="495.91" x2="65.26" y2="498.51" stroke="#2a6a8c" stroke-width="0.8" />
<line x1="66.09" y1="498.02" x2="66.09" y2="499.68" stroke="#2a6a8c" stroke-width="0.8" />
<line x1="67.38" y1="498.23" x2="67.38" y2="501.79" stroke="#2a6a8c" stroke-width="0.8" />
<line x1="68.55" y1="498.43" x2="68.55" y2="501.65" stroke="#2a6a8c" stroke-width="0.8" />
<line x1="69.52" y1="498.59" x2="69.52" y2="500.65" stroke="#2a6a8c" stroke-width="0.8" />
<line x1="70.14" y1="498.69" x2="70.14" y2="500.53" stroke="#2a6a8c" stroke-width="0.8" />
<line x1="71.22" y1="498.87" x2="71.22" y2="502.74" stroke="#2a6a8c" stroke-width="0.8" />
<line x1="72.48" y1="499.62" x2="72.48" y2="503.58" stroke="#2a6a8c" stroke-width="0.8" />
<line x1="73.33" y1="499.83" x2="73.33" y2="501.49" stroke="#2a6a8c" stroke-width="0.8" />
<line x1="74.07" y1="500.02" x2="74.07" y2="504.13" stroke="#2a6a8c" stroke-width="0.8" />
<line x1="75.3" y1="500.32" x2="75.3" y2="505.76" stroke="#2a6a8c" stroke-width="0.8" />
<line x1="76.36" y1="501.1" x2="76.36" y2="504.84" stroke="#2a6a8c" stroke-width="0.8" />
<line x1="77.42" y1="501.41" x2="77.42" y2="508.26" stroke="#2a6a8c" stroke-width="0.8" />
<line x1="78.54" y1="501.73" x2="78.54" y2="504.88" stroke="#2a6a8c" stroke-width="0.8" />
<line x1="79.7" y1="501.03" x2="79.7" y2="506.23" stroke="#2a6a8c" stroke-width="0.8" />
<line x1="80.98" y1="501.25" x2="80.98" y2="505.04" stroke="#2a6a8c" stroke-width="0.8" />
<line x1="82.24" y1="501.46" x2="82.24" y2="505.31" stroke="#2a6a8c" stroke-width="0.8" />
<rect x="50.9" y="462.9" width="5.2" height="5.2" fill="#1e5070" />
<rect x="54.4" y="462.4" width="5.2" height="5.2" fill="#1e5070" />
<rect x="51.9" y="467.4" width="5.2" height="5.2" fill="#1e5070" />
<rect x="53.4" y="469.9" width="5.2" height="5.2" fill="#1e5070" />
<rect x="54.9" y="472.4" width="5.2" height="5.2" fill="#1e5070" />
<rect x="57.4" y="466.4" width="5.2" height="5.2" fill="#1e5070" />
<rect x="63" y="470.6" width="5.2" height="5.2" fill="#1e5070" />
<rect x="71.4" y="475.4" width="5.2" height="5.2" fill="#1e5070" />
<rect x="77.6" y="482.4" width="5.2" height="5.2" fill="#1e5070" />
<rect x="79.7" y="494.4" width="5.2" height="5.2" fill="#1e5070" />
<clipPath id="ce"><rect x="52.5" y="383" width="588" height="135"/></clipPath><g clip-path="url(#ce)">
<circle cx="53" cy="417.4" r="3.3" fill="#a8000c" />
<circle cx="61.4" cy="412" r="3.3" fill="#a8000c" />
<circle cx="70.6" cy="405.4" r="3.3" fill="#a8000c" />
<circle cx="80" cy="408.4" r="3.3" fill="#a8000c" />
<circle cx="99.4" cy="407" r="3.3" fill="#a8000c" />
<circle cx="123" cy="417.4" r="3.3" fill="#a8000c" />
<circle cx="147" cy="415.4" r="3.3" fill="#a8000c" />
<circle cx="171" cy="420.4" r="3.3" fill="#a8000c" />
<circle cx="194.4" cy="410.4" r="3.3" fill="#a8000c" />
<circle cx="218.4" cy="412" r="3.3" fill="#a8000c" />
<circle cx="242.4" cy="413.6" r="3.3" fill="#a8000c" />
<circle cx="266.4" cy="418.6" r="3.3" fill="#a8000c" />
<circle cx="290" cy="415.4" r="3.3" fill="#a8000c" />
<circle cx="313.6" cy="417" r="3.3" fill="#a8000c" />
<circle cx="337.6" cy="420.4" r="3.3" fill="#a8000c" />
<circle cx="385.4" cy="418.4" r="3.3" fill="#a8000c" />
<circle cx="433" cy="413.6" r="3.3" fill="#a8000c" />
<circle cx="480.6" cy="418.6" r="3.3" fill="#a8000c" />
<circle cx="528" cy="422.4" r="3.3" fill="#a8000c" />
<circle cx="576" cy="424" r="3.3" fill="#a8000c" />
<circle cx="623.4" cy="429" r="3.3" fill="#a8000c" />
<circle cx="637.6" cy="425.4" r="3.3" fill="#a8000c" />
</g>
<line x1="234" y1="453.8" x2="234" y2="478" stroke="#b08a1a" stroke-width="1.8" />
<path d="M234,447.8 L229,458.8 L234,456.3 L239,458.8 Z" fill="#b08a1a"/>
<line x1="434.8" y1="455.6" x2="434.8" y2="479.8" stroke="#b08a1a" stroke-width="1.8" />
<path d="M434.8,449.6 L429.8,460.6 L434.8,458.1 L439.8,460.6 Z" fill="#b08a1a"/>
<text x="182.4" y="486" font-size="11.1" text-anchor="start" fill="#b08a1a" >Replace anolyte and remove salt</text>
<text x="306" y="456.4" font-size="11" text-anchor="start" fill="#b3202a" >–3.97 ± 0.20 V</text>
<text x="558.6" y="464.6" font-size="15.6" fill="#a8121e">Cu–Ti<tspan dy="4.2" font-size="11.6">1</tspan><tspan dy="-4.2">O</tspan><tspan dy="4.2" font-size="11.6">3</tspan></text>
<text x="92.2" y="501.1" font-size="15.1" fill="#265878">Cu–O<tspan dy="3.6" font-size="10.8">4</tspan><tspan dy="-3.6">(Ti)</tspan></text>
<path d="M72.5,504 Q67,509.5 60,511" fill="none" stroke="#111" stroke-width="1.1"/>
<path d="M54.6,512.4 L61.5,508.6 L61,513.6 Z" fill="#111"/>
<path d="M578.4,413.6 Q590,404 607,401" fill="none" stroke="#a8000c" stroke-width="1.4"/>
<path d="M613.8,399.2 L605.2,398.2 L606.8,403.8 Z" fill="#a8000c"/>
</svg></body></html>
